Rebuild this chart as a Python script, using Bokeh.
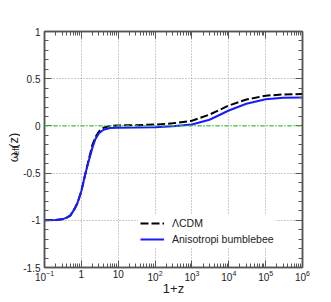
import math
from bokeh.plotting import figure
from bokeh.layouts import row
from bokeh.core.properties import value
from bokeh.models import (FixedTicker, LogAxis, LinearAxis, Span,
                          CustomJSTickFormatter, LogTickFormatter)
from bokeh.embed import file_html
from bokeh.resources import INLINE

# ---- data ----
one_plus_z = [0.1, 0.2, 0.3, 0.4, 0.5, 0.63, 0.78, 1.0, 1.28, 1.6, 2.0, 2.4,
              3.0, 4.0, 6.0, 10, 30, 100, 300, 1000, 3000, 1e4, 3e4, 1e5,
              3e5, 1e6]
w_lcdm = [-1.0, -0.997, -0.99, -0.972, -0.95, -0.89, -0.82, -0.69, -0.51,
          -0.35, -0.20, -0.12, -0.06, -0.02, 0.0, 0.005, 0.008, 0.014, 0.027,
          0.055, 0.12, 0.216, 0.28, 0.32, 0.333, 0.337]
w_aniso = [-1.0, -0.997, -0.99, -0.972, -0.95, -0.89, -0.82, -0.69, -0.51,
           -0.365, -0.23, -0.14, -0.078, -0.04, -0.023, -0.02, -0.018, -0.013,
           -0.003, 0.015, 0.065, 0.163, 0.235, 0.283, 0.298, 0.302]
series_names = ["\u039bCDM", "Anisotropi bumblebee"]
x_major = [0.1, 1, 10, 100, 1e3, 1e4, 1e5, 1e6]
y_major = [-1.5, -1, -0.5, 0, 0.5, 1]
y_label_parts = ["\u03c9", "eff", "(z)"]
x_label = "1+z"

FONT = "Liberation Sans"
H = 298
LW = 20

x_minor = [k * 10.0 ** e for e in range(-1, 6) for k in range(2, 10)]
y_minor = [round(-1.5 + 0.1 * i, 2) for i in range(26)]

p = figure(width=306, height=H, x_axis_type="log",
           x_range=(0.1, 1e6), y_range=(-1.5, 1),
           output_backend="svg", toolbar_location=None,
           min_border_left=23, min_border_right=24,
           min_border_top=31, min_border_bottom=31)
p.background_fill_color = "white"
p.border_fill_color = "white"
p.outline_line_color = "#555555"
p.outline_line_width = 1.5

xt = FixedTicker(ticks=x_major, minor_ticks=x_minor)
yt = FixedTicker(ticks=y_major, minor_ticks=y_minor)

def style_axis(ax, ticker, labels=True):
    ax.ticker = ticker
    ax.axis_line_color = "#555555"
    ax.axis_line_width = 1.5
    ax.major_tick_in = 7
    ax.major_tick_out = 0
    ax.minor_tick_in = 4
    ax.minor_tick_out = 0
    ax.major_tick_line_color = "#555555"
    ax.minor_tick_line_color = "#555555"
    ax.major_label_text_font = FONT
    ax.major_label_text_font_size = "10px"
    ax.major_label_text_color = "#222222"
    ax.major_label_standoff = 4
    if not labels:
        ax.formatter = CustomJSTickFormatter(code="return '';")
        ax.major_label_standoff = 0

xa = p.xaxis[0]
style_axis(xa, xt)
xa.formatter = LogTickFormatter()
xa.major_label_overrides = {1: "1", 10: "10"}
xa.major_label_standoff = 2
xa.axis_label = x_label
xa.axis_label_text_font = FONT
xa.axis_label_text_font_size = "13px"
xa.axis_label_text_font_style = "normal"
xa.axis_label_text_color = "#222222"
xa.axis_label_standoff = -3

ya = p.yaxis[0]
style_axis(ya, yt)
ya.formatter = CustomJSTickFormatter(code="return String(tick);")

top = LogAxis()
style_axis(top, xt, labels=False)
p.add_layout(top, "above")
right = LinearAxis()
style_axis(right, yt, labels=False)
p.add_layout(right, "right")

for g in (p.xgrid[0], p.ygrid[0]):
    g.grid_line_color = "#999999"
    g.grid_line_dash = "1 2"
    g.grid_line_width = 1

p.add_layout(Span(location=0, dimension="width", line_color="#33cc33",
                  line_dash="4 2 1 2", line_width=1.3))

p.line(one_plus_z, w_lcdm, line_color="black", line_width=2,
       line_dash="8 3", legend_label=series_names[0])
p.line(one_plus_z, w_aniso, line_color="#1a1aff", line_width=2,
       legend_label=series_names[1])

lg = p.legend[0]
lg.location = (94, 19)
lg.border_line_alpha = 0
lg.background_fill_color = "white"
lg.background_fill_alpha = 1
lg.padding = 2
lg.margin = 0
lg.spacing = 2
lg.glyph_width = 24
lg.glyph_height = 14
lg.label_height = 14
lg.label_standoff = 8
lg.label_text_font = FONT
lg.label_text_font_size = "10.5px"
lg.label_text_color = "#222222"

# narrow side panel carrying the rotated y-axis title  omega_eff(z)
side = figure(width=LW, height=H, x_range=(0, LW), y_range=(0, H),
              output_backend="svg", toolbar_location=None,
              x_axis_location=None, y_axis_location=None,
              min_border=0)
side.outline_line_color = None
side.grid.visible = False
side.background_fill_color = "white"
side.border_fill_color = "white"
for txt, sx, sy, size in [(y_label_parts[0], 12.5, H - 165, "13px"),
                          (y_label_parts[1], 15.5, H - 156.5, "8.5px"),
                          (y_label_parts[2], 12.5, H - 147, "13px")]:
    side.text(x=[sx], y=[sy], text=[txt], angle=math.pi / 2,
              text_font=value(FONT), text_font_size=size,
              text_align="left", text_baseline="middle",
              text_color="#222222")

layout = row(side, p, spacing=0)
open("out.html", "w").write(file_html(layout, INLINE))
